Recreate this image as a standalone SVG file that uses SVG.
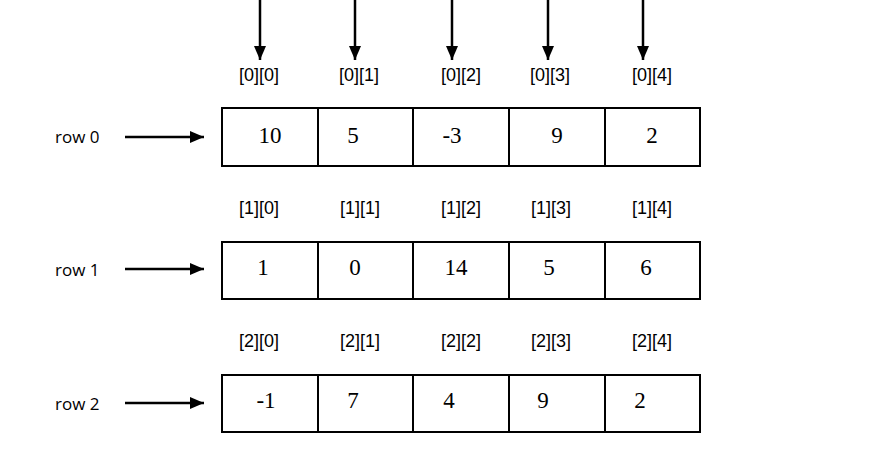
<svg xmlns="http://www.w3.org/2000/svg" width="879" height="462" viewBox="0 0 879 462">
<style>
.idx{font-family:"Liberation Sans",Arial,sans-serif;font-size:18px;fill:#000;text-anchor:middle}
.val{font-family:"Liberation Serif","Times New Roman",serif;font-size:23px;fill:#000;text-anchor:middle}
.row{font-family:"Open Sans",sans-serif;font-size:17px;fill:#000}
.cell{fill:#fff;stroke:#000;stroke-width:2}
.con{stroke:#000;stroke-width:2.5;fill:none}
</style>
<defs>
<marker id="ah" markerWidth="14" markerHeight="12" refX="14" refY="6" orient="auto" markerUnits="userSpaceOnUse">
<path d="M0,0 L14,6 L0,12 Z" fill="#000"/>
</marker>
</defs>
<rect width="879" height="462" fill="#fff"/>
<g id="connectors">
<line class="con" x1="260" y1="0" x2="260" y2="60" marker-end="url(#ah)"/>
<line class="con" x1="355" y1="0" x2="355" y2="60" marker-end="url(#ah)"/>
<line class="con" x1="452" y1="0" x2="452" y2="60" marker-end="url(#ah)"/>
<line class="con" x1="548" y1="0" x2="548" y2="60" marker-end="url(#ah)"/>
<line class="con" x1="643" y1="0" x2="643" y2="60" marker-end="url(#ah)"/>
<line class="con" x1="125" y1="137" x2="204" y2="137" marker-end="url(#ah)"/>
<line class="con" x1="125" y1="269" x2="204" y2="269" marker-end="url(#ah)"/>
<line class="con" x1="125" y1="403" x2="204" y2="403" marker-end="url(#ah)"/>
</g>
<g id="row0">
<text class="row" x="55" y="143">row 0</text>
<g id="r0c0"><rect class="cell" x="222" y="108" width="96" height="58"/><text class="val" x="270" y="143">10</text><text class="idx" x="259" y="81">[0][0]</text></g>
<g id="r0c1"><rect class="cell" x="318" y="108" width="95" height="58"/><text class="val" x="353" y="143">5</text><text class="idx" x="359" y="81">[0][1]</text></g>
<g id="r0c2"><rect class="cell" x="413" y="108" width="96" height="58"/><text class="val" x="452" y="143">-3</text><text class="idx" x="461" y="81">[0][2]</text></g>
<g id="r0c3"><rect class="cell" x="509" y="108" width="96" height="58"/><text class="val" x="557" y="143">9</text><text class="idx" x="550" y="81">[0][3]</text></g>
<g id="r0c4"><rect class="cell" x="605" y="108" width="95" height="58"/><text class="val" x="652" y="143">2</text><text class="idx" x="652" y="81">[0][4]</text></g>
</g>
<g id="row1">
<text class="row" x="55" y="276">row 1</text>
<g id="r1c0"><rect class="cell" x="222" y="242" width="96" height="57"/><text class="val" x="263" y="275">1</text><text class="idx" x="259" y="214">[1][0]</text></g>
<g id="r1c1"><rect class="cell" x="318" y="242" width="95" height="57"/><text class="val" x="355" y="275">0</text><text class="idx" x="360" y="214">[1][1]</text></g>
<g id="r1c2"><rect class="cell" x="413" y="242" width="96" height="57"/><text class="val" x="456" y="275">14</text><text class="idx" x="461" y="214">[1][2]</text></g>
<g id="r1c3"><rect class="cell" x="509" y="242" width="96" height="57"/><text class="val" x="549" y="275">5</text><text class="idx" x="551" y="214">[1][3]</text></g>
<g id="r1c4"><rect class="cell" x="605" y="242" width="95" height="57"/><text class="val" x="646" y="275">6</text><text class="idx" x="652" y="214">[1][4]</text></g>
</g>
<g id="row2">
<text class="row" x="55" y="410">row 2</text>
<g id="r2c0"><rect class="cell" x="222" y="375" width="96" height="57"/><text class="val" x="266" y="408">-1</text><text class="idx" x="259" y="347">[2][0]</text></g>
<g id="r2c1"><rect class="cell" x="318" y="375" width="95" height="57"/><text class="val" x="353" y="408">7</text><text class="idx" x="360" y="347">[2][1]</text></g>
<g id="r2c2"><rect class="cell" x="413" y="375" width="96" height="57"/><text class="val" x="449" y="408">4</text><text class="idx" x="461" y="347">[2][2]</text></g>
<g id="r2c3"><rect class="cell" x="509" y="375" width="96" height="57"/><text class="val" x="543" y="408">9</text><text class="idx" x="551" y="347">[2][3]</text></g>
<g id="r2c4"><rect class="cell" x="605" y="375" width="95" height="57"/><text class="val" x="640" y="408">2</text><text class="idx" x="652" y="347">[2][4]</text></g>
</g>
</svg>
